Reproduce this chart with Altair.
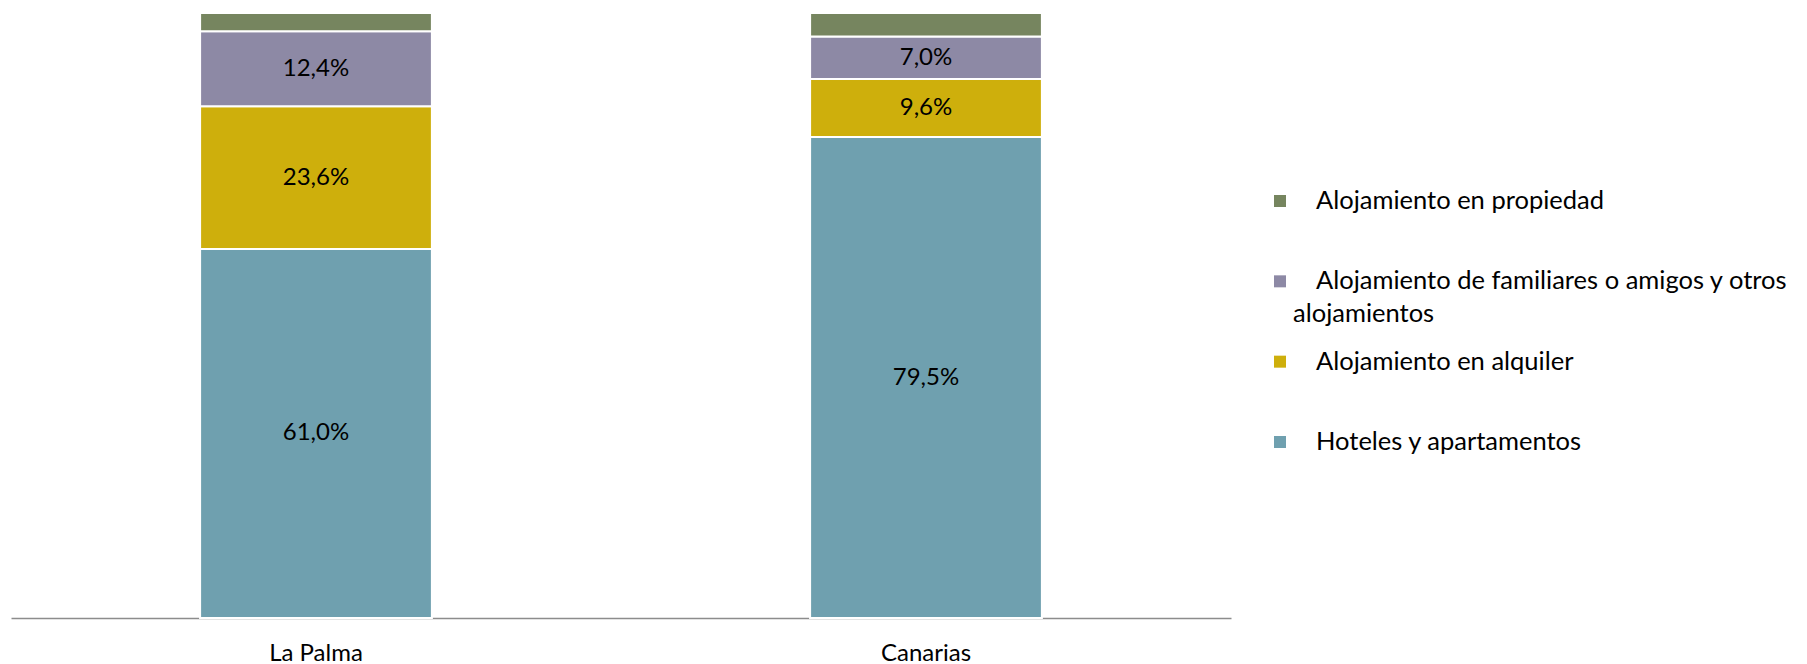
import altair as alt
import pandas as pd

regions = ["La Palma", "Canarias"]
series = [
    "Hoteles y apartamentos",
    "Alojamiento en alquiler",
    "Alojamiento de familiares o amigos y otros alojamientos",
    "Alojamiento en propiedad",
]
la_palma = [61.0, 23.6, 12.4, 3.0]
canarias = [79.5, 9.6, 7.0, 3.9]
show_label = [True, True, True, False]
colors = ["#6FA0AF", "#CEAF0C", "#8D89A5", "#76855F"]

# legend text (top to bottom), split into lines as in the reference
legend_series = [series[3], series[2], series[1], series[0]]
legend_line1 = [
    "Alojamiento en propiedad",
    "Alojamiento de familiares o amigos y otros",
    "Alojamiento en alquiler",
    "Hoteles y apartamentos",
]
legend_line2 = ["", "alojamientos", "", ""]

FONT = "Lato"

rows = []
for region, vals in zip(regions, [la_palma, canarias]):
    for i, (s, v) in enumerate(zip(series, vals)):
        rows.append({
            "region": region,
            "series": s,
            "value": v,
            "order": i,
            "label": (f"{v:.1f}".replace(".", ",") + "%") if show_label[i] else "",
        })
df = pd.DataFrame(rows)

legend_df = pd.DataFrame({
    "series": legend_series,
    "pos": list(range(len(legend_series))),
    "line1": legend_line1,
    "line2": legend_line2,
})

color_scale = alt.Scale(domain=series, range=colors)
y_scale = alt.Scale(domain=[0, 100], nice=False, zero=True)
x_enc = alt.X(
    "region:N",
    sort=regions,
    scale=alt.Scale(paddingInner=0.62, paddingOuter=0.31),
    axis=alt.Axis(
        title=None, labelAngle=0, ticks=False, labelFontSize=24, labelFont=FONT,
        labelColor="#000000", labelPadding=23, domainColor="#8C8C8C", domainWidth=1.5,
        grid=False,
    ),
)

bars = alt.Chart(df).mark_bar(stroke="white", strokeWidth=2).encode(
    x=x_enc,
    y=alt.Y("value:Q", stack="zero", scale=y_scale, axis=None),
    color=alt.Color("series:N", scale=color_scale, legend=None),
    order=alt.Order("order:Q", sort="ascending"),
)

labels = (
    alt.Chart(df)
    .transform_stack(
        stack="value", groupby=["region"], as_=["y0", "y1"],
        sort=[alt.SortField("order", "ascending")],
    )
    .transform_calculate(mid="(datum.y0 + datum.y1) / 2")
    .transform_filter("datum.label != ''")
    .mark_text(font=FONT, fontSize=24, color="#000000", baseline="middle")
    .encode(
        x=alt.X("region:N", sort=regions),
        y=alt.Y("mid:Q", scale=y_scale, axis=None),
        text="label:N",
    )
)

leg_y = alt.Scale(domain=[0, 3], range=[188, 429])
leg = alt.Chart(legend_df)
leg_sq = leg.mark_square(size=144, opacity=1).encode(
    x=alt.value(1269),
    y=alt.Y("pos:Q", scale=leg_y, axis=None),
    color=alt.Color("series:N", scale=color_scale, legend=None),
)
leg_t1 = leg.mark_text(align="left", baseline="middle", font=FONT, fontSize=25.5, color="#000000").encode(
    x=alt.value(1305),
    y=alt.Y("pos:Q", scale=leg_y, axis=None),
    text="line1:N",
)
leg_t2 = leg.transform_filter("datum.line2 != ''").mark_text(
    align="left", baseline="middle", font=FONT, fontSize=25.5, color="#000000", dy=33
).encode(
    x=alt.value(1282),
    y=alt.Y("pos:Q", scale=leg_y, axis=None),
    text="line2:N",
)

chart = (
    alt.layer(bars, labels, leg_sq, leg_t1, leg_t2)
    .resolve_scale(y="independent")
    .properties(
        width=1220,
        height=605,
        autosize=alt.AutoSizeParams(type="none"),
        padding={"left": 3, "top": 5, "right": 560, "bottom": 48},
        background="white",
    )
    .configure_view(stroke=None)
)

chart.save("out.html", embed_options={"renderer": "svg", "actions": False})
